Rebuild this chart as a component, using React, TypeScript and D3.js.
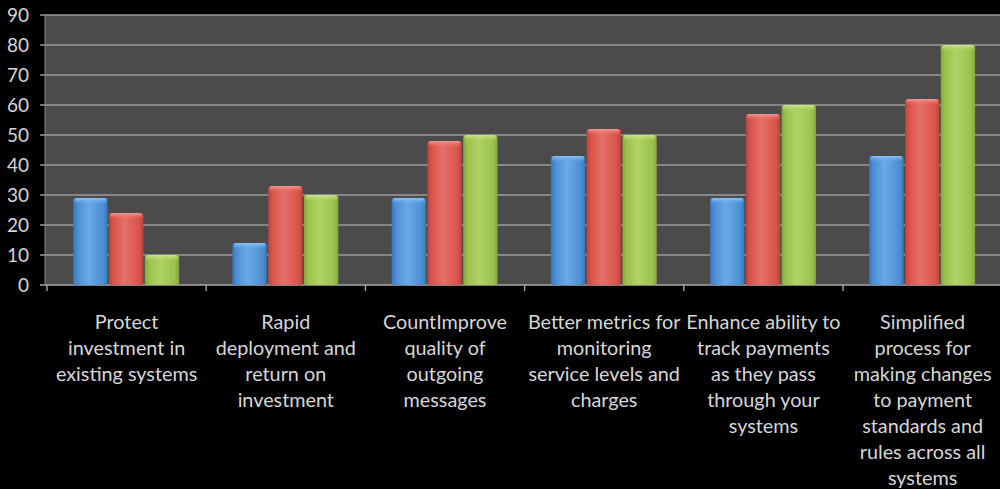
import React, { useEffect, useRef } from "react";
import * as d3 from "d3";

// Survey categories, each split into the lines shown under the axis
const categoryLines: string[][] = [
  ["Protect", "investment in", "existing systems"],
  ["Rapid", "deployment and", "return on", "investment"],
  ["CountImprove", "quality of", "outgoing", "messages"],
  ["Better metrics for", "monitoring", "service levels and", "charges"],
  ["Enhance ability to", "track payments", "as they pass", "through your", "systems"],
  ["Simplified", "process for", "making changes", "to payment", "standards and", "rules across all", "systems"],
];

const seriesNames = ["Series 1", "Series 2", "Series 3"];
const series1 = [29, 14, 29, 43, 29, 43];
const series2 = [24, 33, 48, 52, 57, 62];
const series3 = [10, 30, 50, 50, 60, 80];
const yTicks = [0, 10, 20, 30, 40, 50, 60, 70, 80, 90];

const seriesColors = [
  { base: "#4a8ed4", light: "#6aaae6", dark: "#3a76b6", top: "#8cc4f2" },
  { base: "#d9534b", light: "#e6706a", dark: "#b9443d", top: "#f29a94" },
  { base: "#9bc14c", light: "#b0d366", dark: "#82a63c", top: "#cde68e" },
];

const W = 1000;
const H = 489;
const plotLeft = 45;
const plotTop = 15;
const plotBottom = 285;
const font = "Lato, 'Open Sans', sans-serif";

export default function App() {
  const ref = useRef<SVGSVGElement | null>(null);

  useEffect(() => {
    document.body.style.margin = "0";
    document.body.style.background = "#000";
    const svg = d3.select(ref.current);
    svg.selectAll("*").remove();

    const values = [series1, series2, series3];
    const cats = categoryLines.map((_, i) => String(i));

    const x = d3.scaleBand<string>().domain(cats).range([47, 1002.2]).padding(0);
    const inner = d3
      .scaleBand<string>()
      .domain(seriesNames)
      .range([x.bandwidth() * 0.165, x.bandwidth() * 0.83])
      .paddingInner(0.04);
    const y = d3.scaleLinear().domain([0, 90]).range([plotBottom, plotTop]);

    const defs = svg.append("defs");
    seriesColors.forEach((c, i) => {
      const g = defs
        .append("linearGradient")
        .attr("id", `bar-grad-${i}`)
        .attr("x1", "0")
        .attr("x2", "1")
        .attr("y1", "0")
        .attr("y2", "0");
      g.append("stop").attr("offset", "0").attr("stop-color", c.dark);
      g.append("stop").attr("offset", "0.12").attr("stop-color", c.base);
      g.append("stop").attr("offset", "0.45").attr("stop-color", c.light);
      g.append("stop").attr("offset", "0.88").attr("stop-color", c.base);
      g.append("stop").attr("offset", "1").attr("stop-color", c.dark);
      const t = defs
        .append("linearGradient")
        .attr("id", `top-grad-${i}`)
        .attr("x1", "0")
        .attr("x2", "0")
        .attr("y1", "0")
        .attr("y2", "1");
      t.append("stop").attr("offset", "0").attr("stop-color", c.top);
      t.append("stop").attr("offset", "1").attr("stop-color", c.light).attr("stop-opacity", 0);
    });

    svg.append("rect").attr("width", W).attr("height", H).attr("fill", "#000");

    // plot area
    svg
      .append("rect")
      .attr("x", plotLeft)
      .attr("y", plotTop)
      .attr("width", W - plotLeft)
      .attr("height", plotBottom - plotTop)
      .attr("fill", "#4b4b4b");

    // gridlines with small ticks to the left
    const grid = svg.append("g");
    yTicks.forEach((t) => {
      grid
        .append("line")
        .attr("x1", 40)
        .attr("x2", W)
        .attr("y1", y(t))
        .attr("y2", y(t))
        .attr("stroke", t === 0 ? "#a8a8a8" : "#9a9a9a")
        .attr("stroke-width", 1.6);
      grid
        .append("text")
        .attr("x", 29)
        .attr("y", y(t))
        .attr("dy", "0.35em")
        .attr("text-anchor", "end")
        .attr("fill", "#d6d6d6")
        .attr("font-family", font)
        .attr("font-size", 19)
        .text(String(t));
    });

    // vertical axis line
    svg
      .append("line")
      .attr("x1", plotLeft)
      .attr("x2", plotLeft)
      .attr("y1", plotTop)
      .attr("y2", plotBottom)
      .attr("stroke", "#8a8a8a")
      .attr("stroke-width", 1);

    // category boundary ticks
    cats.forEach((c) => {
      svg
        .append("line")
        .attr("x1", x(c)!)
        .attr("x2", x(c)!)
        .attr("y1", plotBottom)
        .attr("y2", plotBottom + 6)
        .attr("stroke", "#a8a8a8")
        .attr("stroke-width", 1.4);
    });

    // bars
    const bars = svg.append("g");
    cats.forEach((c, ci) => {
      seriesNames.forEach((s, si) => {
        const v = values[si][ci];
        const bx = x(c)! + inner(s)!;
        const bw = inner.bandwidth();
        const by = y(v);
        const bh = plotBottom - by;
        bars
          .append("rect")
          .attr("x", bx)
          .attr("y", by)
          .attr("width", bw)
          .attr("height", bh)
          .attr("rx", 2)
          .attr("fill", `url(#bar-grad-${si})`);
        bars
          .append("rect")
          .attr("x", bx + 1)
          .attr("y", by)
          .attr("width", bw - 2)
          .attr("height", Math.min(6, bh))
          .attr("rx", 3)
          .attr("fill", `url(#top-grad-${si})`);
      });
    });

    // category labels
    const labels = svg.append("g");
    categoryLines.forEach((lines, i) => {
      const cx = x(String(i))! + x.bandwidth() / 2;
      const txt = labels
        .append("text")
        .attr("text-anchor", "middle")
        .attr("fill", "#d6d6d6")
        .attr("font-family", font)
        .attr("font-size", 19.8);
      lines.forEach((ln, li) => {
        txt
          .append("tspan")
          .attr("x", cx)
          .attr("y", 322 + li * 26)
          .attr("dy", "0.35em")
          .text(ln);
      });
    });
  }, []);

  return (
    <svg
      ref={ref}
      width={W}
      height={H}
      style={{ position: "absolute", left: 0, top: 0, display: "block" }}
    />
  );
}
